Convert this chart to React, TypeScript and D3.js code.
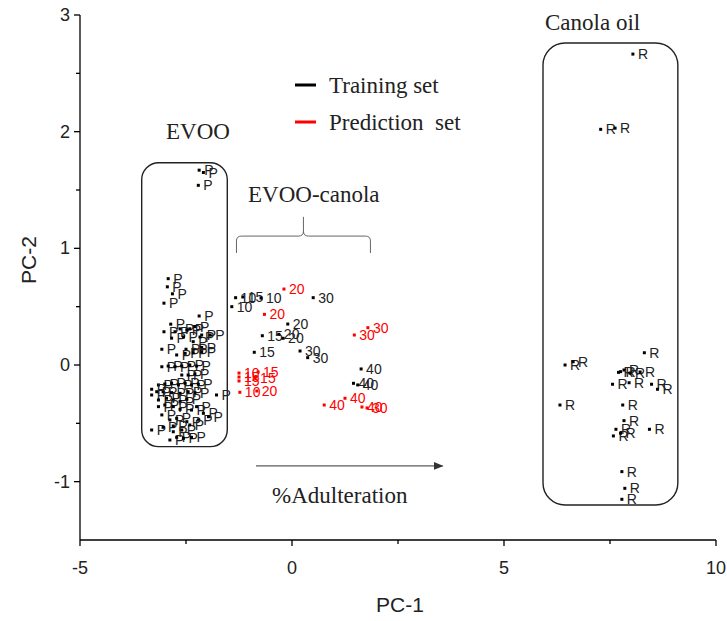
import React from "react";
import * as d3 from "d3";

// ---- data ----
type Pt = { x: number; y: number; label: string };

const evooPoints: [number, number][] = [
  [-2.19, 1.67], [-2.09, 1.65], [-2.21, 1.54], [-2.92, 0.74], [-2.94, 0.67], [-2.82, 0.61],
  [-3.02, 0.53], [-2.19, 0.42], [-2.86, 0.35], [-3.02, 0.285], [-2.76, 0.285], [-2.64, 0.31],
  [-2.48, 0.30], [-2.41, 0.31], [-2.29, 0.33], [-2.13, 0.257], [-1.93, 0.257], [-2.84, 0.23],
  [-2.56, 0.24], [-2.33, 0.20], [-2.17, 0.24], [-3.07, 0.135], [-2.50, 0.135], [-2.33, 0.135],
  [-2.13, 0.15], [-2.72, 0.086], [-2.52, 0.10], [-2.33, 0.105], [-2.13, 0.114], [-3.07, -0.015],
  [-2.92, -0.009], [-2.76, -0.015], [-2.60, -0.009], [-2.41, 0.0], [-2.25, -0.009], [-2.60, -0.086],
  [-2.45, -0.086], [-2.29, -0.077], [-3.15, -0.171], [-3.00, -0.163], [-2.84, -0.157], [-2.68, -0.171],
  [-2.52, -0.157], [-2.37, -0.171], [-2.21, -0.165], [-3.31, -0.208], [-3.19, -0.229], [-3.04, -0.229],
  [-2.84, -0.237], [-2.64, -0.243], [-2.45, -0.229], [-2.29, -0.237], [-1.78, -0.257], [-3.31, -0.257],
  [-3.15, -0.30], [-2.96, -0.285], [-2.80, -0.30], [-2.64, -0.314], [-2.48, -0.294], [-3.15, -0.357],
  [-3.00, -0.343], [-2.80, -0.357], [-2.64, -0.38], [-2.37, -0.386], [-2.25, -0.357], [-2.09, -0.414],
  [-3.07, -0.428], [-2.88, -0.471], [-2.72, -0.457], [-2.48, -0.486], [-2.21, -0.471], [-1.97, -0.443],
  [-3.31, -0.557], [-3.04, -0.534], [-2.80, -0.523], [-2.60, -0.557], [-2.41, -0.514], [-2.80, -0.572],
  [-2.88, -0.643], [-2.72, -0.62], [-2.56, -0.628], [-2.37, -0.62],
];

const canolaPoints: [number, number][] = [
  [8.04, 2.665], [7.28, 2.02], [7.62, 2.03], [8.31, 0.105], [6.44, 0.0], [6.63, 0.028],
  [7.70, -0.063], [7.75, -0.057], [7.83, -0.043], [7.97, -0.069], [8.21, -0.06], [7.56, -0.165],
  [7.95, -0.152], [8.48, -0.165], [8.62, -0.208], [6.32, -0.343], [7.80, -0.343], [7.83, -0.477],
  [7.64, -0.551], [7.58, -0.608], [7.75, -0.585], [8.43, -0.551], [7.78, -0.914], [7.85, -1.057],
  [7.78, -1.151],
];

const blendTrainX = [-1.33, -1.16, -0.73, -1.42, 0.50, -0.10, -0.70, -0.31, -0.21, -0.89, 0.19, 0.37, 1.63, 1.45, 1.55];
const blendTrainY = [0.577, 0.583, 0.574, 0.50, 0.577, 0.351, 0.251, 0.263, 0.229, 0.109, 0.12, 0.063, -0.034, -0.157, -0.171];
const blendTrainLabel = ["10", "15", "10", "10", "30", "20", "15", "20", "20", "15", "30", "30", "40", "40", "40"];

const blendPredX = [-0.19, -0.65, 1.47, 1.79, -1.25, -1.25, -1.25, -0.80, -0.87, -1.23, -0.83, 0.76, 1.25, 1.65, 1.77];
const blendPredY = [0.651, 0.434, 0.257, 0.32, -0.069, -0.103, -0.137, -0.06, -0.111, -0.234, -0.223, -0.343, -0.285, -0.36, -0.368];
const blendPredLabel = ["20", "20", "30", "30", "10", "15", "15", "15", "15", "10", "20", "40", "40", "40", "30"];

const xTicks = [-5, 0, 5, 10];
const xMinor = [-2.5, 2.5, 7.5];
const yTicks = [3, 2, 1, 0, -1];
const yMinor = [2.5, 1.5, 0.5, -0.5];

// annotation extents (data units)
const evooBox = { x0: -3.545, x1: -1.526, y0: 1.733, y1: -0.70 };
const canolaBox = { x0: 5.92, x1: 9.10, y0: 2.76, y1: -1.20 };
const brace = { x0: -1.31, x1: 1.85, xm: 0.27, yTop: 1.105, yEnd: 0.96, yPeak: 1.27 };
const arrow = { x0: -0.85, x1: 3.55, y: -0.865 };

export default function App() {
  const W = 727, H = 621;
  const x = d3.scaleLinear().domain([-5, 10]).range([80, 716]);
  const y = d3.scaleLinear().domain([3, -1.5]).range([15, 540]);

  const serif = "'Liberation Serif', 'Times New Roman', serif";
  const sans = "'Liberation Sans', Arial, sans-serif";
  const fs = 23;

  const P: Pt[] = evooPoints.map(([a, b]) => ({ x: a, y: b, label: "P" }));
  const R: Pt[] = canolaPoints.map(([a, b]) => ({ x: a, y: b, label: "R" }));
  const T: Pt[] = blendTrainX.map((v, i) => ({ x: v, y: blendTrainY[i], label: blendTrainLabel[i] }));
  const Pr: Pt[] = blendPredX.map((v, i) => ({ x: v, y: blendPredY[i], label: blendPredLabel[i] }));

  const renderPts = (pts: Pt[], color: string, key: string) =>
    pts.map((p, i) => (
      <g key={key + i}>
        <rect x={x(p.x) - 1.5} y={y(p.y) - 1.5} width={3} height={3} fill={color} />
        <text x={x(p.x) + 5} y={y(p.y) + 5} fontFamily={sans} fontSize={14} fill={color === "#000" ? "#222" : color}>
          {p.label}
        </text>
      </g>
    ));

  const bx0 = x(brace.x0), bx1 = x(brace.x1), bxm = x(brace.xm);
  const byT = y(brace.yTop), byE = y(brace.yEnd), byP = y(brace.yPeak);
  const r = 5;
  const bracePath =
    `M${bx0},${byE} L${bx0},${byT + r} Q${bx0},${byT} ${bx0 + r},${byT} ` +
    `L${bxm - r},${byT} Q${bxm},${byT} ${bxm},${byT - r} L${bxm},${byP} ` +
    `M${bxm},${byT - r} Q${bxm},${byT} ${bxm + r},${byT} L${bx1 - r},${byT} Q${bx1},${byT} ${bx1},${byT + r} L${bx1},${byE}`;

  return (
    <svg width={W} height={H} style={{ position: "absolute", left: 0, top: 0, background: "#fff" }}>
      <rect width={W} height={H} fill="#fff" />
      {/* axes */}
      <line x1={x(-5)} x2={x(10)} y1={y(-1.5)} y2={y(-1.5)} stroke="#000" strokeWidth={1.3} />
      <line x1={x(-5)} x2={x(-5)} y1={y(3)} y2={y(-1.5)} stroke="#000" strokeWidth={1.3} />
      {xTicks.map((t) => (
        <g key={"xt" + t}>
          <line x1={x(t)} x2={x(t)} y1={y(-1.5)} y2={y(-1.5) + 6} stroke="#000" strokeWidth={1.3} />
          <text x={x(t)} y={y(-1.5) + 34} textAnchor="middle" fontFamily={sans} fontSize={18} fill="#222">
            {t}
          </text>
        </g>
      ))}
      {xMinor.map((t) => (
        <line key={"xm" + t} x1={x(t)} x2={x(t)} y1={y(-1.5)} y2={y(-1.5) + 4} stroke="#000" strokeWidth={1.3} />
      ))}
      {yTicks.map((t) => (
        <g key={"yt" + t}>
          <line x1={x(-5) - 6} x2={x(-5)} y1={y(t)} y2={y(t)} stroke="#000" strokeWidth={1.3} />
          <text x={x(-5) - 10} y={y(t) + 6} textAnchor="end" fontFamily={sans} fontSize={18} fill="#222">
            {t}
          </text>
        </g>
      ))}
      {yMinor.map((t) => (
        <line key={"ym" + t} x1={x(-5) - 4} x2={x(-5)} y1={y(t)} y2={y(t)} stroke="#000" strokeWidth={1.3} />
      ))}
      <text x={(x(-5) + x(10)) / 2 + 2} y={612} textAnchor="middle" fontFamily={sans} fontSize={21} fill="#222">
        PC-1
      </text>
      <text transform={`translate(36,${y(0.9)}) rotate(-90)`} textAnchor="middle" fontFamily={sans} fontSize={21} fill="#222">
        PC-2
      </text>

      {/* boxes */}
      <rect x={x(evooBox.x0)} y={y(evooBox.y0)} width={x(evooBox.x1) - x(evooBox.x0)} height={y(evooBox.y1) - y(evooBox.y0)}
        rx={17} ry={17} fill="none" stroke="#222" strokeWidth={1.4} />
      <rect x={x(canolaBox.x0)} y={y(canolaBox.y0)} width={x(canolaBox.x1) - x(canolaBox.x0)} height={y(canolaBox.y1) - y(canolaBox.y0)}
        rx={22} ry={22} fill="none" stroke="#222" strokeWidth={1.4} />

      {/* brace and arrow */}
      <path d={bracePath} fill="none" stroke="#666" strokeWidth={1} />
      <defs>
        <marker id="ah" markerWidth={10} markerHeight={8} refX={9} refY={4} orient="auto" markerUnits="userSpaceOnUse">
          <path d="M0,0 L10,4 L0,8 Z" fill="#333" />
        </marker>
      </defs>
      <line x1={x(arrow.x0)} x2={x(arrow.x1)} y1={y(arrow.y)} y2={y(arrow.y)} stroke="#333" strokeWidth={1} markerEnd="url(#ah)" />

      {/* annotations */}
      <text x={166} y={139} fontFamily={serif} fontSize={fs} fill="#222">EVOO</text>
      <text x={545} y={30} fontFamily={serif} fontSize={fs} fill="#222">Canola oil</text>
      <text x={248} y={202} fontFamily={serif} fontSize={fs} fill="#222">EVOO-canola</text>
      <text x={272} y={503} fontFamily={serif} fontSize={fs} fill="#222">%Adulteration</text>

      {/* legend */}
      <line x1={295} x2={316} y1={85} y2={85} stroke="#000" strokeWidth={3} />
      <text x={329} y={93} fontFamily={serif} fontSize={fs} fill="#222">Training set</text>
      <line x1={295} x2={316} y1={122} y2={122} stroke="#ff0000" strokeWidth={3} />
      <text x={329} y={130} fontFamily={serif} fontSize={fs} fill="#222" style={{ whiteSpace: "pre" }}>Prediction  set</text>

      {/* points */}
      {renderPts(P, "#000", "p")}
      {renderPts(R, "#000", "r")}
      {renderPts(T, "#000", "t")}
      {renderPts(Pr, "#ff0000", "pr")}
    </svg>
  );
}
